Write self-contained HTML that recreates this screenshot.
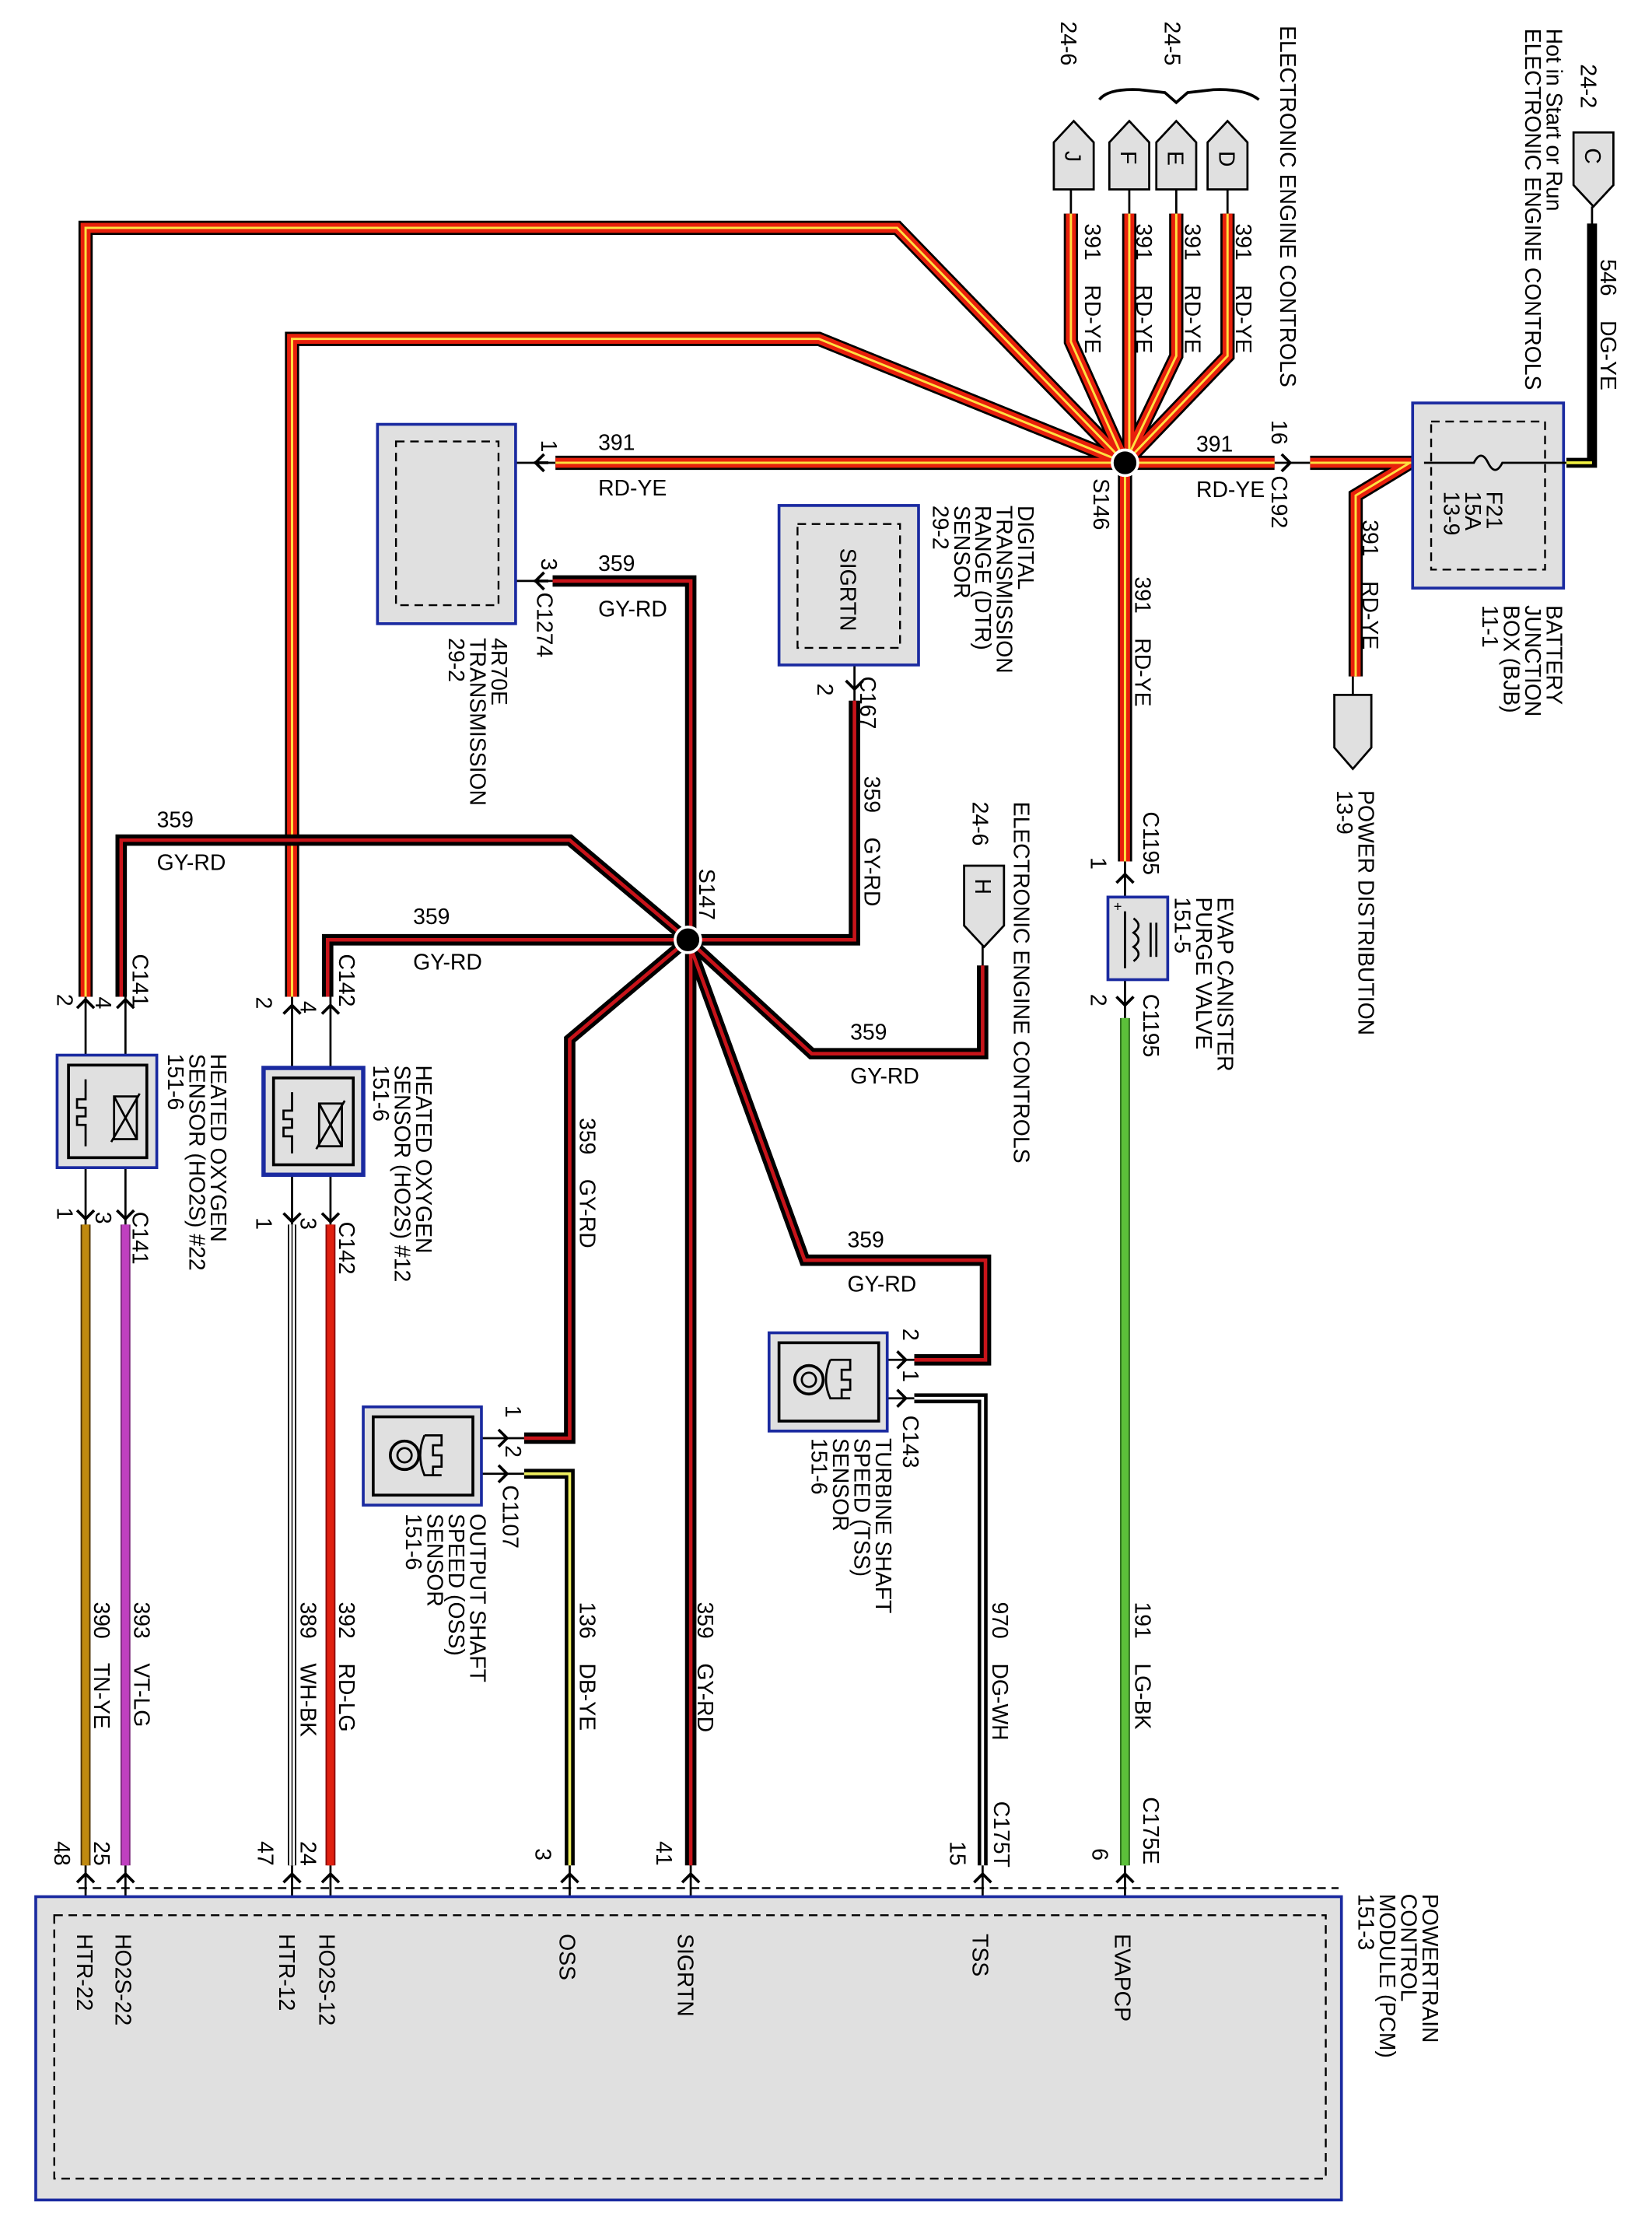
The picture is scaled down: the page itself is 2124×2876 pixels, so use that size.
<!DOCTYPE html>
<html><head><meta charset="utf-8"><style>
html,body{margin:0;padding:0;background:#fff}
svg{display:block}
text{font-family:"Liberation Sans",Arial,sans-serif;font-size:15.5px;fill:#000;white-space:pre}
</style></head><body>
<svg width="2124" height="2876" viewBox="0 0 1160 1571" xmlns="http://www.w3.org/2000/svg" xml:space="preserve">
<defs>
<path id="w1" d="M60,700 V160 H630 L790,325"/>
<path id="w2" d="M205,700 V238 H575 L790,325"/>
<path id="wJ" d="M752,150 V240 L790,325"/>
<path id="wF" d="M793,150 V325"/>
<path id="wE" d="M826,150 V250 L790,325"/>
<path id="wD" d="M862,150 V250 L790,325"/>
<path id="wH1" d="M390,325 H895"/>
<path id="wH3" d="M920,325 H992"/>
<path id="wPD" d="M990,325 L952,348 V475"/>
<path id="wS" d="M790,325 V605"/>
<path id="g1" d="M388,408 H485 V1310"/>
<path id="g2" d="M600,492 V660 H483"/>
<path id="g3" d="M483,660 L400,590 H85 V700"/>
<path id="g4" d="M483,660 H230 V700"/>
<path id="g5" d="M483,660 L400,730 V1010 H368"/>
<path id="g6" d="M483,660 L570,740 H690 V678"/>
<path id="g7" d="M483,660 L565,885 H692 V955 H642"/>
</defs>

<g stroke="#000" stroke-width="1.5" fill="none">
<line x1="752" y1="133" x2="752" y2="152"/><line x1="793" y1="133" x2="793" y2="152"/>
<line x1="826" y1="133" x2="826" y2="152"/><line x1="862" y1="133" x2="862" y2="152"/>
<line x1="1118" y1="145" x2="1118" y2="160"/>
<line x1="60" y1="700" x2="60" y2="860"/><line x1="88" y1="700" x2="88" y2="860"/>
<line x1="205" y1="700" x2="205" y2="860"/><line x1="232" y1="700" x2="232" y2="860"/>
<line x1="790" y1="605" x2="790" y2="715"/>
<line x1="600" y1="455" x2="600" y2="492"/>
<line x1="690" y1="660" x2="690" y2="680"/>
<line x1="950" y1="475" x2="950" y2="490"/>
<line x1="350" y1="325" x2="390" y2="325"/><line x1="350" y1="408" x2="390" y2="408"/>
<line x1="895" y1="325" x2="920" y2="325"/>
<line x1="310" y1="1010" x2="368" y2="1010"/><line x1="310" y1="1035" x2="368" y2="1035"/>
<line x1="595" y1="955" x2="642" y2="955"/><line x1="595" y1="982" x2="642" y2="982"/>
<line x1="60" y1="1310" x2="60" y2="1340"/><line x1="88" y1="1310" x2="88" y2="1340"/>
<line x1="205" y1="1310" x2="205" y2="1340"/><line x1="232" y1="1310" x2="232" y2="1340"/>
<line x1="400" y1="1310" x2="400" y2="1340"/><line x1="485" y1="1310" x2="485" y2="1340"/>
<line x1="690" y1="1310" x2="690" y2="1340"/><line x1="790" y1="1310" x2="790" y2="1340"/>
</g>

<g fill="none" stroke-linejoin="miter">
<g stroke="#000" stroke-width="10">
<use href="#w1"/><use href="#w2"/><use href="#wJ"/><use href="#wF"/><use href="#wE"/><use href="#wD"/><use href="#wH1"/><use href="#wH3"/><use href="#wPD"/><use href="#wS"/>
</g>
<g stroke="#e8200c" stroke-width="7">
<use href="#w1"/><use href="#w2"/><use href="#wJ"/><use href="#wF"/><use href="#wE"/><use href="#wD"/><use href="#wH1"/><use href="#wH3"/><use href="#wPD"/><use href="#wS"/>
</g>
<g stroke="#ffe040" stroke-width="1.6">
<use href="#w1"/><use href="#w2"/><use href="#wJ"/><use href="#wF"/><use href="#wE"/><use href="#wD"/><use href="#wH1"/><use href="#wH3"/><use href="#wPD"/><use href="#wS"/>
</g>
</g>
<g fill="none">
<g stroke="#000" stroke-width="8">
<use href="#g1"/><use href="#g2"/><use href="#g3"/><use href="#g4"/><use href="#g5"/><use href="#g6"/><use href="#g7"/>
</g>
<g stroke="#c8141a" stroke-width="2.5">
<use href="#g1"/><use href="#g2"/><use href="#g3"/><use href="#g4"/><use href="#g5"/><use href="#g6"/><use href="#g7"/>
</g>
</g>
<g fill="none">
<path d="M368,1035 H400 V1310" stroke="#000" stroke-width="7"/>
<path d="M368,1035 H400 V1310" stroke="#f0f060" stroke-width="2"/>
<path d="M642,982 H690 V1310" stroke="#000" stroke-width="7"/>
<path d="M642,982 H690 V1310" stroke="#fff" stroke-width="2"/>
<path d="M790,715 V1310" stroke="#2a6a1a" stroke-width="7"/>
<path d="M790,715 V1310" stroke="#5cc03a" stroke-width="5"/>
<path d="M60,860 V1310" stroke="#4a3000" stroke-width="7"/>
<path d="M60,860 V1310" stroke="#c08a10" stroke-width="5"/>
<path d="M88,860 V1310" stroke="#7a2a7a" stroke-width="7"/>
<path d="M88,860 V1310" stroke="#c040c0" stroke-width="5"/>
<path d="M205,860 V1310" stroke="#000" stroke-width="6"/>
<path d="M205,860 V1310" stroke="#fff" stroke-width="4"/>
<path d="M205,860 V1310" stroke="#000" stroke-width="0.8"/>
<path d="M232,860 V1310" stroke="#8a0a0a" stroke-width="7"/>
<path d="M232,860 V1310" stroke="#e02010" stroke-width="5"/>
<path d="M1118,157 V325 H1100" stroke="#000" stroke-width="7"/>
<path d="M1118,325 H1100" stroke="#f0f040" stroke-width="2"/>
</g>

<circle cx="790" cy="325" r="9" fill="#000" stroke="#fff" stroke-width="2"/>
<circle cx="483" cy="660" r="9" fill="#000" stroke="#fff" stroke-width="2"/>

<g fill="#e0e0e0" stroke="#000" stroke-width="1.5">
<path d="M740,133 V100 L754,85 L768,100 V133 Z"/>
<path d="M779,133 V100 L793,85 L807,100 V133 Z"/>
<path d="M812,133 V100 L826,85 L840,100 V133 Z"/>
<path d="M848,133 V100 L862,85 L876,100 V133 Z"/>
<path d="M1105,93 H1133 V130 L1119,145 L1105,130 Z"/>
<path d="M937,488 H963 V525 L950,540 L937,525 Z"/>
<path d="M677,608 H705 V650 L691,665 L677,650 Z"/>
</g>
<path d="M772,70 Q778,62 800,63 L818,65 L826,72 L834,65 L852,63 Q874,62 884,70" fill="none" stroke="#000" stroke-width="2"/>

<g fill="#e0e0e0" stroke="#1a2aa0" stroke-width="2">
<rect x="265" y="298" width="97" height="140"/>
<rect x="547" y="355" width="98" height="112"/>
<rect x="778" y="630" width="42" height="58"/>
<rect x="40" y="741" width="70" height="79"/>
<rect x="185" y="750" width="70" height="75" stroke-width="3"/>
<rect x="255" y="988" width="83" height="69"/>
<rect x="540" y="936" width="83" height="69"/>
<rect x="992" y="283" width="106" height="130"/>
<rect x="25" y="1332" width="917" height="213"/>
</g>
<g fill="none" stroke="#000" stroke-width="1.3" stroke-dasharray="6,4">
<rect x="278" y="310" width="72" height="115"/>
<rect x="560" y="368" width="72" height="87"/>
<rect x="1005" y="296" width="80" height="104"/>
<rect x="38" y="1345" width="893" height="185"/>
<line x1="55" y1="1326" x2="940" y2="1326"/>
</g>
<g fill="none" stroke="#000" stroke-width="2">
<rect x="48" y="748" width="55" height="65"/>
<rect x="192" y="757" width="56" height="61"/>
<rect x="262" y="995" width="70" height="55"/>
<rect x="547" y="943" width="70" height="55"/>
</g>
<path d="M1000,325 H1035 Q1040,315 1045,325 Q1050,335 1055,325 H1100" fill="none" stroke="#000" stroke-width="1.5"/>
<g fill="none" stroke="#000" stroke-width="1.5">
<path d="M60,758 V772 H54 V778 H60 V784 H54 V790 H60 V805"/>
<rect x="80" y="770" width="16" height="30"/><path d="M78,802 L98,768 M80,770 L96,800"/>
<path d="M205,767 V780 H199 V786 H205 V792 H199 V798 H205 V810"/>
<rect x="224" y="775" width="16" height="30"/><path d="M222,807 L242,773 M224,775 L240,805"/>
<circle cx="284" cy="1022" r="10" stroke-width="2"/><circle cx="284" cy="1022" r="5"/>
<path d="M298,1008 H310 V1015 H304 V1022 H310 V1030 H304 V1036 H310 M298,1008 Q292,1022 298,1036 H310"/>
<circle cx="568" cy="969" r="10" stroke-width="2"/><circle cx="568" cy="969" r="5"/>
<path d="M583,955 H597 V962 H591 V969 H597 V976 H591 V982 H597 M583,955 Q577,969 583,982 H597"/>
<line x1="790" y1="640" x2="790" y2="680"/>
<path d="M796,645 Q803,650 796,655 Q803,660 796,665 Q803,670 796,675"/>
<line x1="808" y1="648" x2="808" y2="672"/><line x1="812" y1="648" x2="812" y2="672"/>
</g>
<text x="782" y="640" style="font-size:10px">+</text>

<g fill="none" stroke="#000" stroke-width="2">
<path d="M382,319 L376,325 L382,331 M375,325 H385"/>
<path d="M382,402 L376,408 L382,414 M375,408 H385"/>
<path d="M900,319 L906,325 L900,331"/>
<path d="M594,478 L600,484 L606,478"/>
<path d="M784,620 L790,614 L796,620"/>
<path d="M784,700 L790,706 L796,700"/>
<path d="M54,708 L60,702 L66,708"/><path d="M82,708 L88,702 L94,708"/>
<path d="M199,712 L205,706 L211,712"/><path d="M226,712 L232,706 L238,712"/>
<path d="M54,850 L60,856 L66,850"/><path d="M82,850 L88,856 L94,850"/>
<path d="M199,852 L205,858 L211,852"/><path d="M226,852 L232,858 L238,852"/>
<path d="M350,1004 L356,1010 L350,1016"/><path d="M350,1029 L356,1035 L350,1041"/>
<path d="M630,949 L636,955 L630,961"/><path d="M630,976 L636,982 L630,988"/>
<path d="M54,1322 L60,1316 L66,1322"/><path d="M82,1322 L88,1316 L94,1322"/>
<path d="M199,1322 L205,1316 L211,1322"/><path d="M226,1322 L232,1316 L238,1322"/>
<path d="M394,1322 L400,1316 L406,1322"/><path d="M479,1322 L485,1316 L491,1322"/>
<path d="M684,1322 L690,1316 L696,1322"/><path d="M784,1322 L790,1316 L796,1322"/>
</g>

<text x="840" y="317">391</text><text x="840" y="349">RD-YE</text>
<text x="420" y="316">391</text><text x="420" y="348">RD-YE</text>
<text x="420" y="401">359</text><text x="420" y="433">GY-RD</text>
<text x="110" y="581">359</text><text x="110" y="611">GY-RD</text>
<text x="290" y="649">359</text><text x="290" y="681">GY-RD</text>
<text x="597" y="730">359</text><text x="597" y="761">GY-RD</text>
<text x="595" y="876">359</text><text x="595" y="907">GY-RD</text>

<g>
<text transform="translate(745,15) rotate(90)">24-6</text>
<text transform="translate(818,15) rotate(90)">24-5</text>
<text transform="translate(899,18) rotate(90)">ELECTRONIC ENGINE CONTROLS</text>
<text transform="translate(1110,45) rotate(90)">24-2</text>
<text transform="translate(1086,20) rotate(90)">Hot in Start or Run</text>
<text transform="translate(1071,20) rotate(90)">ELECTRONIC ENGINE CONTROLS</text>
<text transform="translate(748,106) rotate(90)">J</text>
<text transform="translate(787,106) rotate(90)">F</text>
<text transform="translate(820,106) rotate(90)">E</text>
<text transform="translate(856,106) rotate(90)">D</text>
<text transform="translate(1113,104) rotate(90)">C</text>
<text transform="translate(685,617) rotate(90)">H</text>
<text transform="translate(762,157) rotate(90)">391    RD-YE</text>
<text transform="translate(798,157) rotate(90)">391    RD-YE</text>
<text transform="translate(832,157) rotate(90)">391    RD-YE</text>
<text transform="translate(868,157) rotate(90)">391    RD-YE</text>
<text transform="translate(1124,182) rotate(90)">546    DG-YE</text>
<text transform="translate(893,295) rotate(90)">16</text>
<text transform="translate(893,334) rotate(90)">C192</text>
<text transform="translate(768,336) rotate(90)">S146</text>
<text transform="translate(1044,345) rotate(90)">F21</text>
<text transform="translate(1029,345) rotate(90)">15A</text>
<text transform="translate(1014,345) rotate(90)">13-9</text>
<text transform="translate(1086,425) rotate(90)">BATTERY</text>
<text transform="translate(1071,425) rotate(90)">JUNCTION</text>
<text transform="translate(1056,425) rotate(90)">BOX (BJB)</text>
<text transform="translate(1041,425) rotate(90)">11-1</text>
<text transform="translate(957,365) rotate(90)">391    RD-YE</text>
<text transform="translate(954,555) rotate(90)">POWER DISTRIBUTION</text>
<text transform="translate(939,555) rotate(90)">13-9</text>
<text transform="translate(797,405) rotate(90)">391    RD-YE</text>
<text transform="translate(803,570) rotate(90)">C1195</text>
<text transform="translate(766,602) rotate(90)">1</text>
<text transform="translate(855,630) rotate(90)">EVAP CANISTER</text>
<text transform="translate(840,630) rotate(90)">PURGE VALVE</text>
<text transform="translate(825,630) rotate(90)">151-5</text>
<text transform="translate(766,698) rotate(90)">2</text>
<text transform="translate(803,698) rotate(90)">C1195</text>
<text transform="translate(797,1125) rotate(90)">191    LG-BK</text>
<text transform="translate(803,1262) rotate(90)">C175E</text>
<text transform="translate(767,1298) rotate(90)">6</text>
<text transform="translate(697,1125) rotate(90)">970    DG-WH</text>
<text transform="translate(698,1265) rotate(90)">C175T</text>
<text transform="translate(667,1293) rotate(90)">15</text>
<text transform="translate(490,1125) rotate(90)">359    GY-RD</text>
<text transform="translate(461,1293) rotate(90)">41</text>
<text transform="translate(407,1125) rotate(90)">136    DB-YE</text>
<text transform="translate(376,1298) rotate(90)">3</text>
<text transform="translate(238,1125) rotate(90)">392    RD-LG</text>
<text transform="translate(211,1293) rotate(90)">24</text>
<text transform="translate(211,1125) rotate(90)">389    WH-BK</text>
<text transform="translate(181,1293) rotate(90)">47</text>
<text transform="translate(94,1125) rotate(90)">393    VT-LG</text>
<text transform="translate(66,1293) rotate(90)">25</text>
<text transform="translate(66,1125) rotate(90)">390    TN-YE</text>
<text transform="translate(38,1293) rotate(90)">48</text>
<text transform="translate(783,1358) rotate(90)">EVAPCP</text>
<text transform="translate(683,1358) rotate(90)">TSS</text>
<text transform="translate(476,1358) rotate(90)">SIGRTN</text>
<text transform="translate(393,1358) rotate(90)">OSS</text>
<text transform="translate(224,1358) rotate(90)">HO2S-12</text>
<text transform="translate(196,1358) rotate(90)">HTR-12</text>
<text transform="translate(81,1358) rotate(90)">HO2S-22</text>
<text transform="translate(54,1358) rotate(90)">HTR-22</text>
<text transform="translate(999,1330) rotate(90)">POWERTRAIN</text>
<text transform="translate(984,1330) rotate(90)">CONTROL</text>
<text transform="translate(969,1330) rotate(90)">MODULE (PCM)</text>
<text transform="translate(954,1330) rotate(90)">151-3</text>
<text transform="translate(380,309) rotate(90)">1</text>
<text transform="translate(380,392) rotate(90)">3</text>
<text transform="translate(377,416) rotate(90)">C1274</text>
<text transform="translate(345,448) rotate(90)">4R70E</text>
<text transform="translate(330,448) rotate(90)">TRANSMISSION</text>
<text transform="translate(315,448) rotate(90)">29-2</text>
<text transform="translate(715,355) rotate(90)">DIGITAL</text>
<text transform="translate(700,355) rotate(90)">TRANSMISSION</text>
<text transform="translate(685,355) rotate(90)">RANGE (DTR)</text>
<text transform="translate(670,355) rotate(90)">SENSOR</text>
<text transform="translate(655,355) rotate(90)">29-2</text>
<text transform="translate(590,385) rotate(90)">SIGRTN</text>
<text transform="translate(574,480) rotate(90)">2</text>
<text transform="translate(604,475) rotate(90)">C167</text>
<text transform="translate(607,545) rotate(90)">359    GY-RD</text>
<text transform="translate(683,563) rotate(90)">24-6</text>
<text transform="translate(712,563) rotate(90)">ELECTRONIC ENGINE CONTROLS</text>
<text transform="translate(491,610) rotate(90)">S147</text>
<text transform="translate(407,785) rotate(90)">359    GY-RD</text>
<text transform="translate(93,670) rotate(90)">C141</text>
<text transform="translate(40,698) rotate(90)">2</text>
<text transform="translate(67,700) rotate(90)">4</text>
<text transform="translate(40,848) rotate(90)">1</text>
<text transform="translate(67,851) rotate(90)">3</text>
<text transform="translate(93,851) rotate(90)">C141</text>
<text transform="translate(148,740) rotate(90)">HEATED OXYGEN</text>
<text transform="translate(133,740) rotate(90)">SENSOR (HO2S) #22</text>
<text transform="translate(118,740) rotate(90)">151-6</text>
<text transform="translate(238,670) rotate(90)">C142</text>
<text transform="translate(180,700) rotate(90)">2</text>
<text transform="translate(211,703) rotate(90)">4</text>
<text transform="translate(180,855) rotate(90)">1</text>
<text transform="translate(211,855) rotate(90)">3</text>
<text transform="translate(238,858) rotate(90)">C142</text>
<text transform="translate(292,748) rotate(90)">HEATED OXYGEN</text>
<text transform="translate(277,748) rotate(90)">SENSOR (HO2S) #12</text>
<text transform="translate(262,748) rotate(90)">151-6</text>
<text transform="translate(355,987) rotate(90)">1</text>
<text transform="translate(355,1015) rotate(90)">2</text>
<text transform="translate(353,1043) rotate(90)">C1107</text>
<text transform="translate(330,1063) rotate(90)">OUTPUT SHAFT</text>
<text transform="translate(315,1063) rotate(90)">SPEED (OSS)</text>
<text transform="translate(300,1063) rotate(90)">SENSOR</text>
<text transform="translate(285,1063) rotate(90)">151-6</text>
<text transform="translate(634,933) rotate(90)">2</text>
<text transform="translate(634,962) rotate(90)">1</text>
<text transform="translate(634,994) rotate(90)">C143</text>
<text transform="translate(615,1010) rotate(90)">TURBINE SHAFT</text>
<text transform="translate(600,1010) rotate(90)">SPEED (TSS)</text>
<text transform="translate(585,1010) rotate(90)">SENSOR</text>
<text transform="translate(570,1010) rotate(90)">151-6</text>
</g>
</svg>
</body></html>
